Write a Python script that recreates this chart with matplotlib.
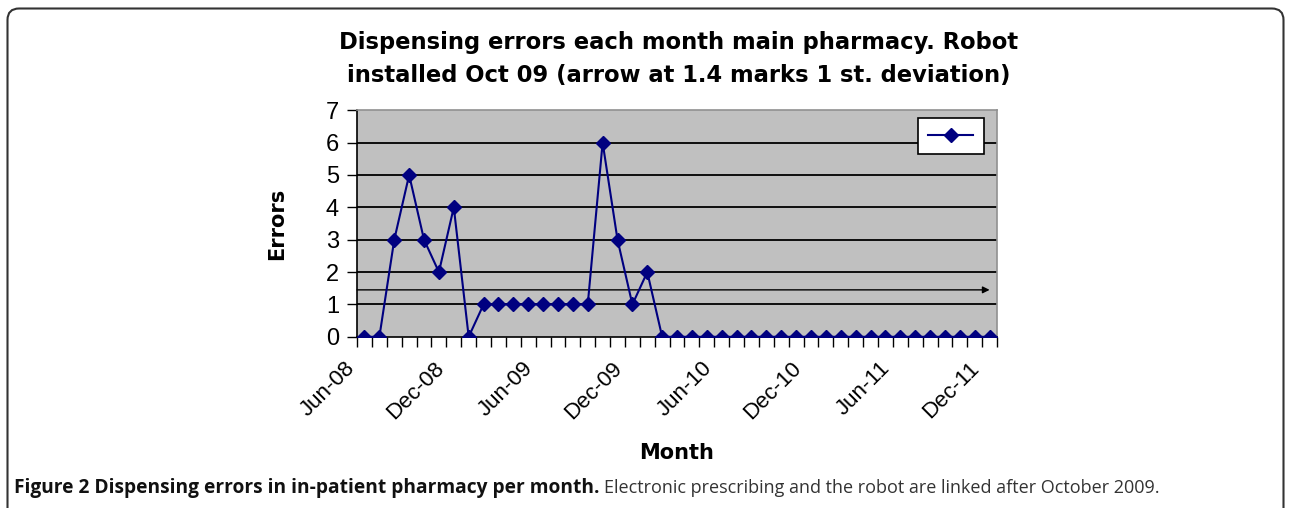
import matplotlib
matplotlib.use("Agg")
import matplotlib.pyplot as plt
from matplotlib.patches import FancyBboxPatch
from matplotlib.ticker import FixedLocator, MultipleLocator
from matplotlib.lines import Line2D
from matplotlib.transforms import ScaledTranslation

months = ["Jun-08", "Dec-08", "Jun-09", "Dec-09", "Jun-10", "Dec-10", "Jun-11", "Dec-11"]
errors = [0, 0, 3, 5, 3, 2, 4, 0, 1, 1, 1, 1, 1, 1, 1, 1, 6, 3, 1, 2, 0,
          0, 0, 0, 0, 0, 0, 0, 0, 0, 0, 0, 0, 0, 0, 0, 0, 0, 0, 0, 0, 0, 0]
sd_level = 1.45
label_step = 6

plt.rcParams['font.family'] = ['Liberation Sans', 'DejaVu Sans']
BOLD = ['DejaVu Sans']
CAP = ['Open Sans', 'DejaVu Sans']

W, H = 1289, 508
fig = plt.figure(figsize=(W / 100, H / 100), dpi=100)
ax = fig.add_axes([0.277, 0.337, 0.4965, 0.446])

n = len(errors)
xs = [i + 0.5 for i in range(n)]
ax.set_facecolor('#c0c0c0')
ax.set_xlim(0, n)
ax.set_ylim(0, 7)
for y in range(1, 7):
    ax.axhline(y, color='black', lw=1.3, zorder=1)
ax.plot(xs, errors, color='#000080', lw=1.5, marker='D', markersize=7,
        markerfacecolor='#000080', markeredgecolor='#000080', zorder=3)
ax.annotate('', xy=(n - 0.5, sd_level), xytext=(0, sd_level),
            arrowprops=dict(arrowstyle='-|>', color='black', lw=1.0,
                            mutation_scale=10, shrinkA=0, shrinkB=0), zorder=2)

ax.xaxis.set_major_locator(FixedLocator(list(range(0, n, label_step))))
ax.set_xticklabels(months, rotation=45, ha='right', va='top', fontsize=16,
                   rotation_mode='anchor')
ax.xaxis.set_minor_locator(MultipleLocator(1))
ax.tick_params(axis='x', which='both', length=7, width=1, direction='out', pad=8)
ax.yaxis.set_major_locator(MultipleLocator(1))
ax.tick_params(axis='y', length=7, width=1, labelsize=17, pad=6)
shift = ScaledTranslation(-13 / 100, 0, fig.dpi_scale_trans)
for lab in ax.get_xticklabels():
    lab.set_transform(lab.get_transform() + shift)

ax.spines['left'].set_color('black')
ax.spines['bottom'].set_color('black')
ax.spines['top'].set_color('#909090')
ax.spines['right'].set_color('#909090')
for s in ax.spines.values():
    s.set_linewidth(1.2)

ax.set_ylabel('Errors', fontsize=15, fontweight='bold', family=BOLD, labelpad=28)
ax.set_xlabel('Month', fontsize=15, fontweight='bold', family=BOLD, labelpad=14)

handle = Line2D([], [], color='#000080', lw=1.5, marker='D', markersize=7)
leg = ax.legend(handles=[handle], labels=[''], loc='upper right',
                bbox_to_anchor=(0.9797, 0.965), fontsize=12,
                handlelength=2.7, frameon=True, fancybox=False, borderpad=0.64,
                handletextpad=0.0, borderaxespad=0)
leg.get_frame().set_edgecolor('black')
leg.get_frame().set_linewidth(1.2)
leg.get_frame().set_facecolor('white')
leg.get_frame().set_alpha(1)

fig.text(0.5262, 0.917, 'Dispensing errors each month main pharmacy. Robot',
         ha='center', va='center', fontsize=16.3, fontweight='bold', family=BOLD)
fig.text(0.5262, 0.852, 'installed Oct 09 (arrow at 1.4 marks 1 st. deviation)',
         ha='center', va='center', fontsize=16.3, fontweight='bold', family=BOLD)

# outer panel border
border = FancyBboxPatch((7.5 / W, -0.05), 1 - 13 / W, 1 - 8.5 / H + 0.05,
                        boxstyle='round,pad=0,rounding_size=0.009',
                        transform=fig.transFigure, fill=False,
                        edgecolor='#333333', lw=1.5, mutation_aspect=2.5)
fig.add_artist(border)

# caption, sized to the widths measured in the reference
fig.canvas.draw()
renderer = fig.canvas.get_renderer()
cap_y = 1 - 488 / H
bold_txt = 'Figure 2 Dispensing errors in in-patient pharmacy per month.'
reg_txt = 'Electronic prescribing and the robot are linked after October 2009.'
t1 = fig.text(14 / W, cap_y, bold_txt, ha='left', va='center', fontsize=11,
              fontweight='bold', family=CAP, color='#111111')
w1 = t1.get_window_extent(renderer).width
t1.set_fontsize(11 * 583 / w1)
bb = t1.get_window_extent(renderer)
probe = fig.text(0, 0, 'Electronic prescrib', fontsize=11, family=CAP)
wp = probe.get_window_extent(renderer).width
probe.remove()
fig.text((bb.x1 + 5) / W, cap_y, reg_txt, ha='left', va='center',
         fontsize=11 * 156 / wp, family=CAP, color='#333333')

fig.savefig('out.png', dpi=100)
